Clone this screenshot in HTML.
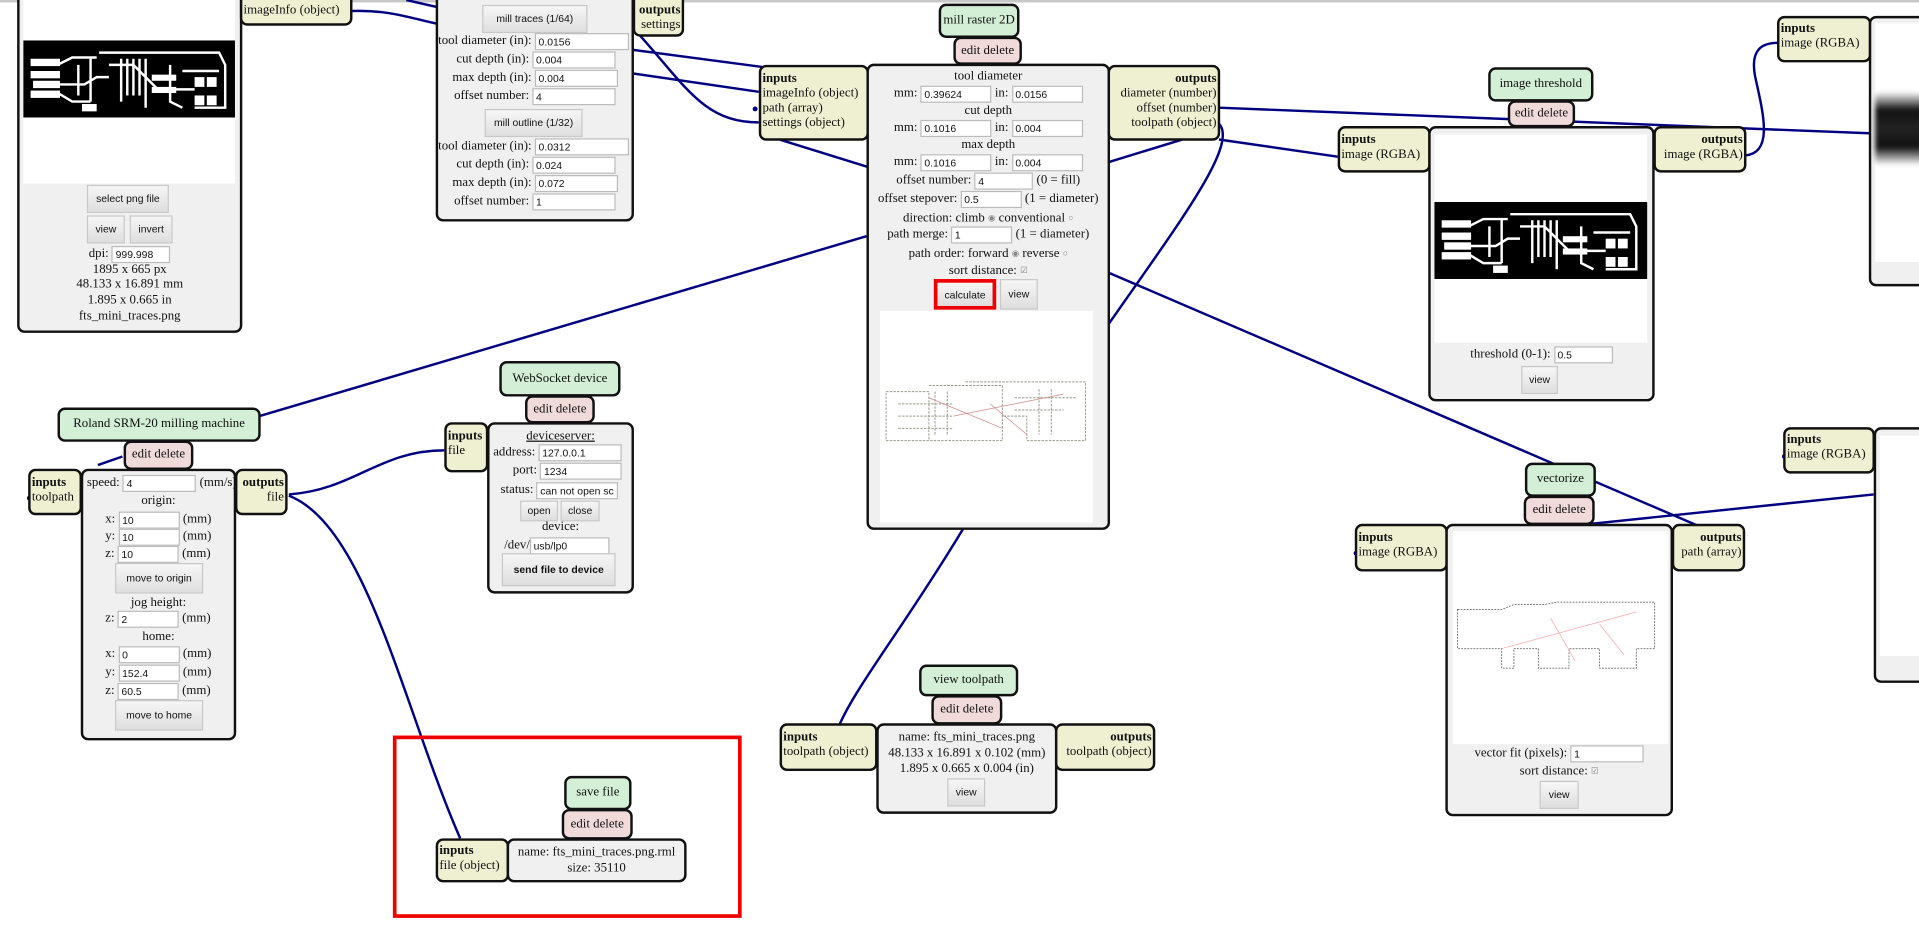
<!DOCTYPE html>
<html><head><meta charset="utf-8">
<style>
html,body{margin:0;padding:0;background:#fff;overflow:hidden;width:1919px;height:943px}
#c{position:absolute;left:0;top:0;width:1568px;height:771px;transform:scale(1.22385);transform-origin:0 0;font-family:"Liberation Serif",serif;font-size:10.5px;color:#111}
.a{position:absolute;box-sizing:border-box}
.bx{position:absolute;box-sizing:border-box;border:2px solid #111;border-radius:6px;background:#f0f0f0}
.tg{position:absolute;box-sizing:border-box;border:2px solid #111;border-radius:6px;background:#efefd2;line-height:12px;padding:1px 1px;white-space:nowrap}
.gr{position:absolute;box-sizing:border-box;border:2px solid #111;border-radius:6px;background:#d3efd6;text-align:center;white-space:nowrap}
.pk{position:absolute;box-sizing:border-box;border:2px solid #111;border-radius:6px;background:#f0dada;text-align:center;white-space:nowrap}
.r{position:absolute;white-space:nowrap;line-height:14px;height:14px}
.c{text-align:center}
.in{display:inline-block;box-sizing:border-box;background:#fff;border:1px solid #bbb;height:14px;line-height:12px;font-family:"Liberation Sans",sans-serif;font-size:8.5px;padding-left:2px;vertical-align:top;text-align:left;overflow:hidden}
.bt{position:absolute;box-sizing:border-box;border:1px solid #c8c8c8;background:linear-gradient(#f6f6f6,#dedede);font-family:"Liberation Sans",sans-serif;font-size:8.5px;text-align:center;white-space:nowrap}
.rd{font-size:7px;color:#888;vertical-align:1px}
</style></head><body>
<div id="c">
<div class="a" style="left:0;top:0;width:1568px;height:2px;background:#c8c8c8"></div>

<svg class="a" style="left:0;top:0" width="1568" height="771">
<g fill="none" stroke="#000080" stroke-width="2">
<path d="M332,0 L358,6"/>
<path d="M287,9 C320,8 335,15 360,20 L625,55"/>
<path d="M517,60 L620,75"/>
<path d="M522,28 C560,70 575,100 620,100"/>
<path d="M637,114 L711,137"/>
<path d="M904,133 L966,114"/>
<path d="M996,88 L1530,109"/>
<path d="M996,114 L1093,128"/>
<path d="M1426,127 C1450,125 1440,90 1434,62 C1430,40 1440,35 1453,35"/>
<path d="M996,101 C1012,118 965,180 905,266"/>
<path d="M787,432 C740,510 700,560 686,592"/>
<path d="M708,193 L212,340"/>
<path d="M100,373 L80,380"/>
<path d="M236,404 C290,400 310,368 363,368"/>
<path d="M236,405 C300,430 330,580 376,685"/>
<path d="M904,222 L1386,429"/>
<path d="M1300,428 L1531,404"/>
</g>
<g fill="#000080"><circle cx="617" cy="89" r="2"/><circle cx="24" cy="407" r="2"/><circle cx="1108" cy="452" r="2"/><circle cx="1458" cy="373" r="2"/></g>
</svg>

<!-- image node left -->
<div class="bx" style="left:14px;top:-8px;width:184px;height:280px"></div>
<div class="a" style="left:19px;top:0;width:173px;height:150px;background:#fff"></div>
<svg class="a" style="left:19px;top:33px" width="173" height="63"><rect width="173" height="63" fill="#000"/>
<g fill="none" stroke="#fff" stroke-width="2"><path d="M8,19 H30 L40,14 H60 M8,28 H30 M10,36 H50 L60,30 H70 M8,44 H30 L40,50 H55 M62,10 H160 L165,20 V55 H140 M80,15 V50 M100,15 V55 M120,20 V50 L130,55 M70,20 H90 L110,40 H140 M130,25 H160 M85,15 V45 M90,15 V45 M95,15 V45 M45,20 V45 M55,14 V50"/></g>
<g fill="#fff"><rect x="6" y="15" width="24" height="6"/><rect x="6" y="25" width="24" height="6"/><rect x="8" y="33" width="22" height="6"/><rect x="6" y="41" width="24" height="6"/><rect x="140" y="30" width="8" height="8"/><rect x="150" y="30" width="8" height="8"/><rect x="140" y="45" width="8" height="8"/><rect x="150" y="45" width="8" height="8"/><rect x="48" y="52" width="12" height="6"/><rect x="105" y="28" width="20" height="5"/><rect x="105" y="38" width="20" height="5"/></g></svg>
<div class="bt" style="left:71px;top:151px;width:67px;height:23px;line-height:21px">select png file</div>
<div class="bt" style="left:71px;top:176px;width:31px;height:23px;line-height:21px">view</div>
<div class="bt" style="left:106px;top:176px;width:35px;height:23px;line-height:21px">invert</div>
<div class="r c" style="left:14px;top:201px;width:184px">dpi: <span class="in" style="width:48px;margin-top:0">999.998</span></div>
<div class="r c" style="left:14px;top:215px;width:184px;line-height:12px">1895 x 665 px</div>
<div class="r c" style="left:14px;top:227px;width:184px;line-height:12px">48.133 x 16.891 mm</div>
<div class="r c" style="left:14px;top:240px;width:184px;line-height:12px">1.895 x 0.665 in</div>
<div class="r c" style="left:14px;top:253px;width:184px;line-height:12px">fts_mini_traces.png</div>
<div class="tg" style="left:196px;top:-8px;width:92px;height:29px;padding-top:9px">imageInfo (object)</div>

<!-- mill traces -->
<div class="bx" style="left:356px;top:-8px;width:162px;height:189px"></div>
<div class="bt" style="left:394px;top:4px;width:86px;height:23px;line-height:21px">mill traces (1/64)</div>
<div class="r" style="left:358px;top:27px;width:152px;text-align:right">tool diameter (in): <span class="in" style="width:77px">0.0156</span></div>
<div class="r" style="left:358px;top:42px;width:145px;text-align:right">cut depth (in): <span class="in" style="width:68px">0.004</span></div>
<div class="r" style="left:358px;top:57px;width:147px;text-align:right">max depth (in): <span class="in" style="width:68px">0.004</span></div>
<div class="r" style="left:358px;top:72px;width:145px;text-align:right">offset number: <span class="in" style="width:68px">4</span></div>
<div class="bt" style="left:396px;top:89px;width:80px;height:23px;line-height:21px">mill outline (1/32)</div>
<div class="r" style="left:358px;top:113px;width:152px;text-align:right">tool diameter (in): <span class="in" style="width:77px">0.0312</span></div>
<div class="r" style="left:358px;top:128px;width:145px;text-align:right">cut depth (in): <span class="in" style="width:68px">0.024</span></div>
<div class="r" style="left:358px;top:143px;width:147px;text-align:right">max depth (in): <span class="in" style="width:68px">0.072</span></div>
<div class="r" style="left:358px;top:158px;width:145px;text-align:right">offset number: <span class="in" style="width:68px">1</span></div>
<div class="tg" style="left:517px;top:-8px;width:42px;height:38px;padding-top:9px;text-align:right"><b>outputs</b><br>settings</div>

<!-- mill raster 2D -->
<div class="gr" style="left:767px;top:3px;width:66px;height:28px;line-height:24px">mill raster 2D</div>
<div class="pk" style="left:779px;top:30px;width:56px;height:23px;line-height:19px">edit delete</div>
<div class="tg" style="left:620px;top:53px;width:90px;height:62px;padding-top:4px"><b>inputs</b><br>imageInfo (object)<br>path (array)<br>settings (object)</div>
<div class="bx" style="left:708px;top:52px;width:199px;height:381px"></div>
<div class="tg" style="left:905px;top:53px;width:92px;height:62px;padding-top:4px;text-align:right"><b>outputs</b><br>diameter (number)<br>offset (number)<br>toolpath (object)</div>
<div class="r c" style="left:708px;top:56px;width:199px">tool diameter</div>
<div class="r c" style="left:708px;top:70px;width:199px">mm: <span class="in" style="width:58px">0.39624</span> in: <span class="in" style="width:58px">0.0156</span></div>
<div class="r c" style="left:708px;top:84px;width:199px">cut depth</div>
<div class="r c" style="left:708px;top:98px;width:199px">mm: <span class="in" style="width:58px">0.1016</span> in: <span class="in" style="width:58px">0.004</span></div>
<div class="r c" style="left:708px;top:112px;width:199px">max depth</div>
<div class="r c" style="left:708px;top:126px;width:199px">mm: <span class="in" style="width:58px">0.1016</span> in: <span class="in" style="width:58px">0.004</span></div>
<div class="r c" style="left:708px;top:141px;width:199px">offset number: <span class="in" style="width:48px">4</span> (0 = fill)</div>
<div class="r c" style="left:708px;top:156px;width:199px">offset stepover: <span class="in" style="width:50px">0.5</span> (1 = diameter)</div>
<div class="r c" style="left:708px;top:171px;width:199px">direction: climb <span class="rd">&#9673;</span> conventional <span class="rd">&#9675;</span></div>
<div class="r c" style="left:708px;top:185px;width:199px">path merge: <span class="in" style="width:50px">1</span> (1 = diameter)</div>
<div class="r c" style="left:708px;top:200px;width:199px">path order: forward <span class="rd">&#9673;</span> reverse <span class="rd">&#9675;</span></div>
<div class="r c" style="left:708px;top:214px;width:199px">sort distance: <span class="rd">&#9745;</span></div>
<div class="bt" style="left:763px;top:228px;width:51px;height:25px;line-height:21px;border:3px solid #e00">calculate</div>
<div class="bt" style="left:817px;top:228px;width:31px;height:25px;line-height:23px">view</div>
<div class="a" style="left:719px;top:254px;width:174px;height:173px;background:#fff"></div>
<svg class="a" style="left:719px;top:310px" width="174" height="60"><g fill="none" stroke="#998" stroke-width="0.8" stroke-dasharray="2,1"><path d="M5,10 H40 V50 H5 Z M40,5 H100 V50 H40 M70,2 H168 V50 H120 V30 H100 M15,20 H60 M15,30 H60 M15,40 H60 M110,15 H160 M110,25 H150 M45,10 V45 M55,10 V45 M130,8 V45 M140,8 V45"/></g><g fill="none" stroke="#c88" stroke-width="0.6"><path d="M40,15 L100,40 M60,30 L150,12 M90,20 L120,45"/></g></svg>

<!-- image threshold -->
<div class="gr" style="left:1216px;top:55px;width:86px;height:28px;line-height:24px">image threshold</div>
<div class="pk" style="left:1232px;top:82px;width:55px;height:22px;line-height:18px">edit delete</div>
<div class="tg" style="left:1093px;top:103px;width:76px;height:38px;padding-top:4px"><b>inputs</b><br>image (RGBA)</div>
<div class="bx" style="left:1167px;top:103px;width:185px;height:225px"></div>
<div class="tg" style="left:1351px;top:103px;width:76px;height:38px;padding-top:4px;text-align:right"><b>outputs</b><br>image (RGBA)</div>
<div class="a" style="left:1172px;top:110px;width:174px;height:170px;background:#fff"></div>
<svg class="a" style="left:1172px;top:165px" width="174" height="63"><rect width="174" height="63" fill="#000"/>
<g fill="none" stroke="#fff" stroke-width="2"><path d="M8,19 H30 L40,14 H60 M8,28 H30 M10,36 H50 L60,30 H70 M8,44 H30 L40,50 H55 M62,10 H160 L165,20 V55 H140 M80,15 V50 M100,15 V55 M120,20 V50 L130,55 M70,20 H90 L110,40 H140 M130,25 H160 M85,15 V45 M90,15 V45 M95,15 V45 M45,20 V45 M55,14 V50"/></g>
<g fill="#fff"><rect x="6" y="15" width="24" height="6"/><rect x="6" y="25" width="24" height="6"/><rect x="8" y="33" width="22" height="6"/><rect x="6" y="41" width="24" height="6"/><rect x="140" y="30" width="8" height="8"/><rect x="150" y="30" width="8" height="8"/><rect x="140" y="45" width="8" height="8"/><rect x="150" y="45" width="8" height="8"/><rect x="48" y="52" width="12" height="6"/><rect x="105" y="28" width="20" height="5"/><rect x="105" y="38" width="20" height="5"/></g></svg>
<div class="r c" style="left:1167px;top:283px;width:185px">threshold (0-1): <span class="in" style="width:48px">0.5</span></div>
<div class="bt" style="left:1243px;top:299px;width:30px;height:23px;line-height:21px">view</div>

<!-- right partial top -->
<div class="tg" style="left:1452px;top:13px;width:77px;height:38px;padding-top:3px"><b>inputs</b><br>image (RGBA)</div>
<div class="bx" style="left:1527px;top:13px;width:60px;height:221px"></div>
<div class="a" style="left:1532px;top:19px;width:40px;height:195px;background:#fff"></div>
<div class="a" style="left:1532px;top:75px;width:40px;height:60px;background:linear-gradient(#fff,#111 25%,#222 50%,#111 75%,#fff);filter:blur(2px)"></div>

<!-- vectorize -->
<div class="gr" style="left:1246px;top:378px;width:58px;height:28px;line-height:24px">vectorize</div>
<div class="pk" style="left:1245px;top:405px;width:58px;height:24px;line-height:20px">edit delete</div>
<div class="tg" style="left:1107px;top:428px;width:76px;height:39px;padding-top:4px"><b>inputs</b><br>image (RGBA)</div>
<div class="bx" style="left:1181px;top:428px;width:186px;height:239px"></div>
<div class="tg" style="left:1366px;top:428px;width:60px;height:39px;padding-top:4px;text-align:right"><b>outputs</b><br>path (array)</div>
<div class="a" style="left:1187px;top:434px;width:176px;height:174px;background:#fff"></div>
<svg class="a" style="left:1187px;top:490px" width="176" height="60"><g fill="none" stroke="#666" stroke-width="0.7" stroke-dasharray="1.5,1"><path d="M4,8 H40 L50,4 H75 L85,2 H165 V40 H150 V56 H120 V40 H95 V56 H70 V40 H50 V56 H40 V40 H4 Z"/></g><g fill="none" stroke="#e99" stroke-width="0.5"><path d="M40,40 L150,10 M80,15 L100,50 M120,20 L140,45"/></g></svg>
<div class="r c" style="left:1181px;top:609px;width:186px">vector fit (pixels): <span class="in" style="width:60px">1</span></div>
<div class="r c" style="left:1181px;top:623px;width:186px">sort distance: <span class="rd">&#9745;</span></div>
<div class="bt" style="left:1258px;top:638px;width:32px;height:23px;line-height:21px">view</div>

<!-- right partial bottom -->
<div class="tg" style="left:1457px;top:349px;width:75px;height:38px;padding-top:3px"><b>inputs</b><br>image (RGBA)</div>
<div class="bx" style="left:1531px;top:349px;width:60px;height:209px"></div>
<div class="a" style="left:1536px;top:356px;width:40px;height:180px;background:#fff"></div>

<!-- Roland -->
<div class="gr" style="left:47px;top:333px;width:166px;height:28px;line-height:24px">Roland SRM-20 milling machine</div>
<div class="pk" style="left:101px;top:360px;width:57px;height:24px;line-height:20px">edit delete</div>
<div class="tg" style="left:23px;top:383px;width:44px;height:38px;padding-top:4px"><b>inputs</b><br>toolpath</div>
<div class="bx" style="left:66px;top:383px;width:127px;height:222px"></div>
<div class="tg" style="left:192px;top:383px;width:43px;height:38px;padding-top:4px;text-align:right"><b>outputs</b><br>file</div>
<div class="r" style="left:71px;top:388px">speed: <span class="in" style="width:60px">4</span> (mm/s)</div>
<div class="r c" style="left:66px;top:403px;width:127px">origin:</div>
<div class="r" style="left:86px;top:418px">x: <span class="in" style="width:50px">10</span> (mm)</div>
<div class="r" style="left:86px;top:432px">y: <span class="in" style="width:50px">10</span> (mm)</div>
<div class="r" style="left:86px;top:446px">z: <span class="in" style="width:50px">10</span> (mm)</div>
<div class="bt" style="left:94px;top:460px;width:72px;height:25px;line-height:23px">move to origin</div>
<div class="r c" style="left:66px;top:486px;width:127px">jog height:</div>
<div class="r" style="left:86px;top:499px">z: <span class="in" style="width:50px">2</span> (mm)</div>
<div class="r c" style="left:66px;top:514px;width:127px">home:</div>
<div class="r" style="left:86px;top:528px">x: <span class="in" style="width:50px">0</span> (mm)</div>
<div class="r" style="left:86px;top:543px">y: <span class="in" style="width:50px">152.4</span> (mm)</div>
<div class="r" style="left:86px;top:558px">z: <span class="in" style="width:50px">60.5</span> (mm)</div>
<div class="bt" style="left:94px;top:572px;width:72px;height:25px;line-height:23px">move to home</div>

<!-- WebSocket -->
<div class="gr" style="left:408px;top:295px;width:99px;height:29px;line-height:25px">WebSocket device</div>
<div class="pk" style="left:429px;top:323px;width:57px;height:23px;line-height:19px">edit delete</div>
<div class="tg" style="left:363px;top:345px;width:36px;height:41px;padding-top:4px"><b>inputs</b><br>file</div>
<div class="bx" style="left:398px;top:345px;width:120px;height:140px"></div>
<div class="r c" style="left:398px;top:350px;width:120px;text-decoration:underline">deviceserver:</div>
<div class="r" style="left:403px;top:363px">address: <span class="in" style="width:68px">127.0.0.1</span></div>
<div class="r" style="left:419px;top:378px">port: <span class="in" style="width:67px">1234</span></div>
<div class="r" style="left:409px;top:394px">status: <span class="in" style="width:67px">can not open sc</span></div>
<div class="bt" style="left:425px;top:409px;width:31px;height:17px;line-height:15px">open</div>
<div class="bt" style="left:458px;top:409px;width:32px;height:17px;line-height:15px">close</div>
<div class="r c" style="left:398px;top:424px;width:120px">device:</div>
<div class="r" style="left:412px;top:439px">/dev/<span class="in" style="width:65px">usb/lp0</span></div>
<div class="bt" style="left:410px;top:452px;width:93px;height:27px;line-height:25px;font-weight:bold">send file to device</div>

<!-- view toolpath -->
<div class="gr" style="left:751px;top:543px;width:81px;height:26px;line-height:22px">view toolpath</div>
<div class="pk" style="left:761px;top:568px;width:58px;height:24px;line-height:20px">edit delete</div>
<div class="tg" style="left:637px;top:591px;width:80px;height:39px;padding-top:4px"><b>inputs</b><br>toolpath (object)</div>
<div class="bx" style="left:716px;top:591px;width:148px;height:74px"></div>
<div class="tg" style="left:862px;top:591px;width:82px;height:39px;padding-top:4px;text-align:right"><b>outputs</b><br>toolpath (object)</div>
<div class="r c" style="left:716px;top:596px;width:148px;line-height:13px">name: fts_mini_traces.png</div>
<div class="r c" style="left:716px;top:609px;width:148px;line-height:13px">48.133 x 16.891 x 0.102 (mm)</div>
<div class="r c" style="left:716px;top:622px;width:148px;line-height:13px">1.895 x 0.665 x 0.004 (in)</div>
<div class="bt" style="left:774px;top:636px;width:31px;height:23px;line-height:21px">view</div>

<!-- save file -->
<div class="gr" style="left:461px;top:634px;width:55px;height:28px;line-height:24px">save file</div>
<div class="pk" style="left:459px;top:661px;width:58px;height:25px;line-height:21px">edit delete</div>
<div class="tg" style="left:356px;top:685px;width:60px;height:36px;padding-top:3px"><b>inputs</b><br>file (object)</div>
<div class="bx" style="left:414px;top:685px;width:147px;height:36px;text-align:center;line-height:13px;padding-top:3px">name: fts_mini_traces.png.rml<br>size: 35110</div>
<div class="a" style="left:321px;top:601px;width:285px;height:149px;border:3px solid #e00"></div>
</div>
</body></html>
